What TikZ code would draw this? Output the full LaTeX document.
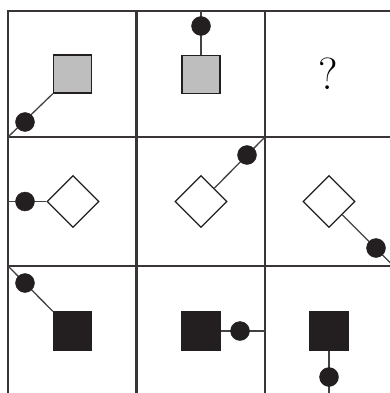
\documentclass[tikz,border=0pt]{standalone}
\usetikzlibrary{shapes.geometric}
\definecolor{inkBlack}{RGB}{35,31,32}
\definecolor{shadeGray}{RGB}{190,190,190}

\begin{document}
\begin{tikzpicture}[
    x=1pt, y=-1pt,
    gridline/.style={line width=2.6pt, draw=inkBlack!90},
    greysq/.style={rectangle, draw=inkBlack, fill=shadeGray, line width=1.3pt, minimum size=38pt, inner sep=0pt},
    blacksq/.style={greysq, fill=inkBlack},
    rhomb/.style={diamond, draw=inkBlack, fill=white, line width=1.3pt, minimum width=52pt, minimum height=52pt, inner sep=0pt, aspect=1},
    knob/.style={circle, draw=inkBlack, fill=inkBlack, minimum size=19pt, inner sep=0pt},
    link/.style={line width=1.3pt, draw=inkBlack!85}
]
    \useasboundingbox (0,0) rectangle (390,393);
    \clip (0,0) rectangle (390,393);

    \draw[gridline] (8,11) rectangle (393.5,395);
    \foreach \gx in {136.5,265}
        \draw[gridline] (\gx,11) -- (\gx,395);
    \foreach \gy in {137,266}
        \draw[gridline] (8,\gy) -- (393.5,\gy);

    \node[greysq] (sq_a) at (72.5,74) {};
    \coordinate (corner_a) at (8,137);
    \draw[link] (sq_a.south west) -- (corner_a);
    \node[knob] (dot_a) at (25,122) {};

    \node[greysq] (sq_b) at (201,74.5) {};
    \coordinate (top_b) at (201,11);
    \draw[link] (sq_b.north) -- (top_b);
    \node[knob] (dot_b) at (201,26) {};

    \node[font=\fontsize{45}{45}\selectfont] (quest) at (328.5,74) {?};

    \node[rhomb] (rh_c) at (73,201.5) {};
    \coordinate (left_c) at (8,201.5);
    \draw[link] (rh_c.west) -- (left_c);
    \node[knob] (dot_c) at (25,201.5) {};

    \node[rhomb] (rh_d) at (201,201.5) {};
    \coordinate (corner_d) at (265,137);
    \draw[link] (rh_d.north east) -- (corner_d);
    \node[knob] (dot_d) at (247,155) {};

    \node[rhomb] (rh_e) at (329,201.5) {};
    \coordinate (corner_e) at (393.5,266);
    \draw[link] (rh_e.south east) -- (corner_e);
    \node[knob] (dot_e) at (376,248) {};

    \node[blacksq] (sq_f) at (72.5,331) {};
    \coordinate (corner_f) at (8,266);
    \draw[link] (sq_f.north west) -- (corner_f);
    \node[knob] (dot_f) at (25,283) {};

    \node[blacksq] (sq_g) at (201,331) {};
    \coordinate (right_g) at (265,331);
    \draw[link] (sq_g.east) -- (right_g);
    \node[knob] (dot_g) at (240,331) {};

    \node[blacksq] (sq_h) at (329,331) {};
    \coordinate (bottom_h) at (329,395);
    \draw[link] (sq_h.south) -- (bottom_h);
    \node[knob] (dot_h) at (329,377) {};
\end{tikzpicture}
\end{document}
